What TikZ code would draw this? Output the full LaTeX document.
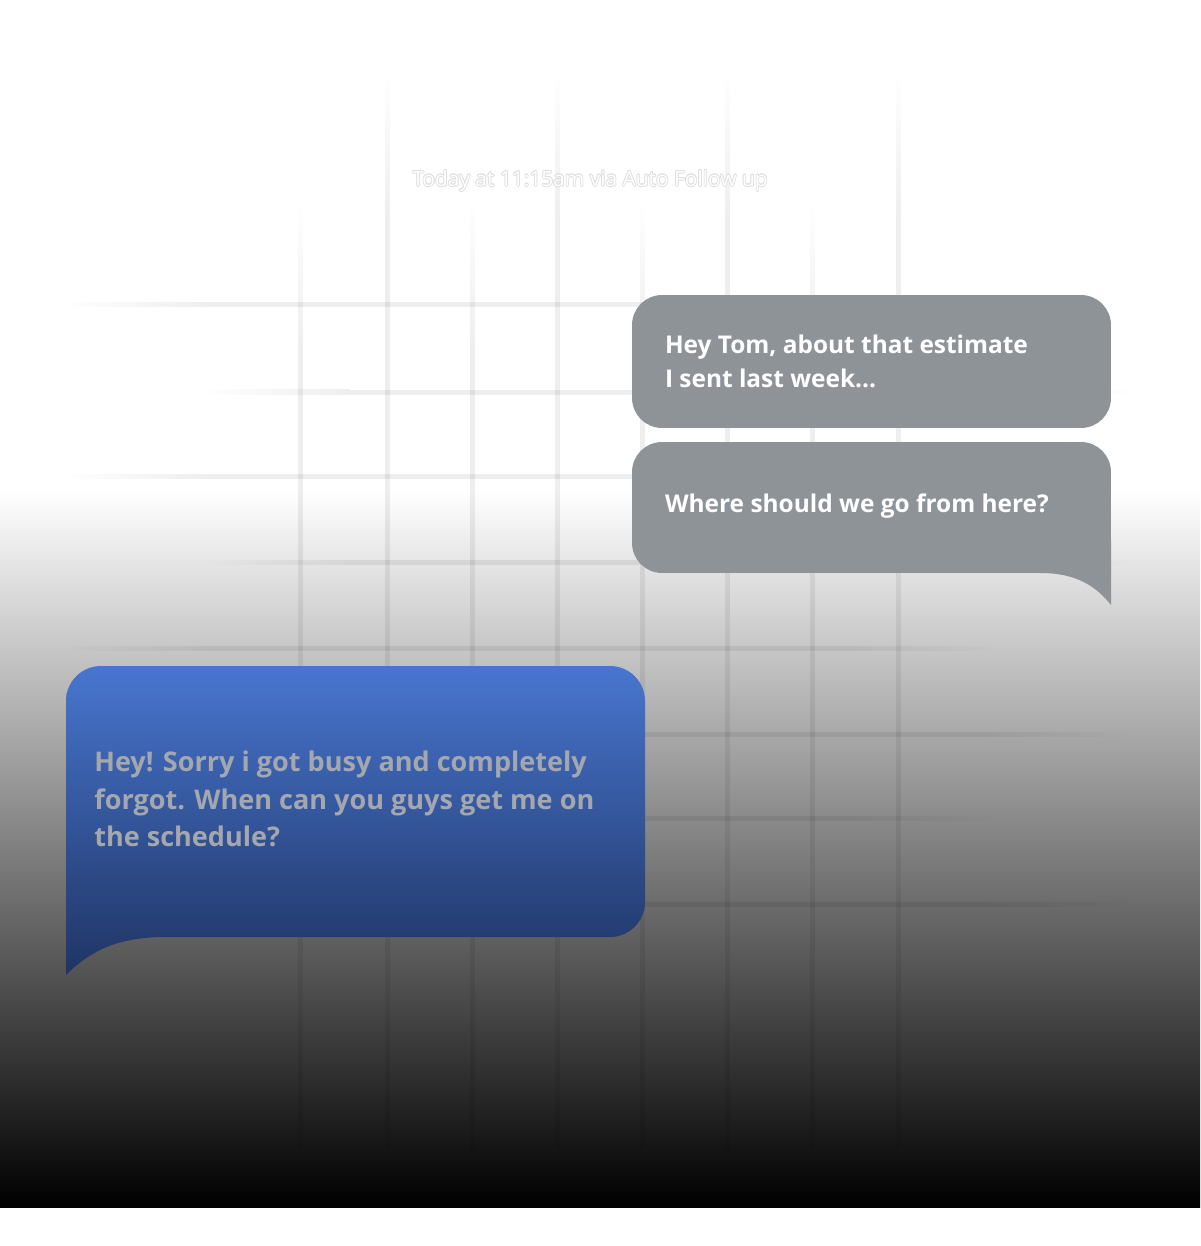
\documentclass[tikz,border=0pt]{standalone}
\usepackage{fontspec}
\setmainfont{Open Sans}
\usepackage{tikz}
\usetikzlibrary{positioning, fadings}
\definecolor{bubblegray}{RGB}{142, 147, 152}
\definecolor{bluetop}{RGB}{72, 118, 207}
\definecolor{bluebottom}{RGB}{31, 52, 100}
\definecolor{replyink}{RGB}{164, 168, 174}
\definecolor{stampedge}{RGB}{222, 222, 222}

\begin{document}
\begin{tikzpicture}[
    x=0.02cm, y=-0.02cm,
    gridline/.style={fill=black, fill opacity=0.065},
    graybubble/.style={fill=bubblegray, rounded corners=0.6cm, minimum width=9.58cm, minimum height=2.66cm, inner sep=0pt},
    graytext/.style={text=white, font=\fontsize{13.9}{19.3}\selectfont\bfseries, align=left, inner sep=0pt, anchor=west},
    replytext/.style={text=replyink, font=\fontsize{15.4}{21.5}\selectfont\bfseries, align=left, inner sep=0pt, anchor=west},
    stamptext/.style={font=\fontsize{11.9}{14}\selectfont, inner sep=0pt}
]
    % Page and background fade
    \useasboundingbox (0,0) rectangle (1200,1246);
    \fill[white] (0,0) rectangle (1200,1246);
    \shade[top color=white, bottom color=black] (0,490) rectangle (1200,1207);

    % Grid
    \foreach \gx/\gy in {387/70, 557/70, 727/70, 898/70, 300/200, 472/200, 642/200, 812/200} {
        \fill[gridline, path fading=north] (\gx-2.5,\gy) rectangle (\gx+2.5,\gy+150);
        \fill[gridline] (\gx-2.5,\gy+150) rectangle (\gx+2.5,1150);
    }
    \foreach \gy/\gl/\gr in {305/60/1000, 476/60/1000, 648/60/1000, 818/60/1000, 392/200/1135, 562/200/1135, 734/200/1135, 904/200/1135} {
        \fill[gridline, path fading=west] (\gl,\gy-2.5) rectangle (\gl+150,\gy+2.5);
        \fill[gridline] (\gl+150,\gy-2.5) rectangle (\gr-150,\gy+2.5);
        \fill[gridline, path fading=east] (\gr-150,\gy-2.5) rectangle (\gr,\gy+2.5);
    }

    % Time stamp
    \foreach \a [count=\i] in {0,45,...,315}
        \node[stamptext, text=stampedge, shift={(\a:0.8)}] (stamp-\i) at (590,181) {Today at 11:15am via Auto Follow up};
    \node[stamptext, text=white] (stamp) at (590,181) {Today at 11:15am via Auto Follow up};

    % Outgoing bubbles
    \node[graybubble] (estimate) at (871.5,361.5) {};
    \node[graytext] (estimatetext) at ([xshift=0.66cm]estimate.west) {Hey Tom, about that estimate\\I sent last week...};

    \node[graybubble, minimum height=2.62cm] (where) at (871.5,507.5) {};
    \fill[bubblegray] (1040,540) -- (1111,540) -- (1111,605) .. controls (1095,585) and (1075,573) .. (1040,573) -- cycle;
    \node[graytext] (wheretext) at ([xshift=0.66cm, yshift=0.02cm]where.west) {Where should we go from here?};

    % Reply bubble
    \shade[top color=bluetop, bottom color=bluebottom] (66,975) -- (66,701)
        arc[start angle=180, end angle=270, radius=35] -- (610,666)
        arc[start angle=270, end angle=360, radius=35] -- (645,902)
        arc[start angle=0, end angle=90, radius=35] -- (165,937)
        .. controls (115,937) and (88,953) .. (66,975) -- cycle;
    \coordinate (reply) at (66,801.5);
    \node[replytext] (replytext) at ([xshift=0.56cm, yshift=0.05cm]reply) {Hey! Sorry i got busy and completely\\forgot. When can you guys get me on\\the schedule?};
\end{tikzpicture}
\end{document}
